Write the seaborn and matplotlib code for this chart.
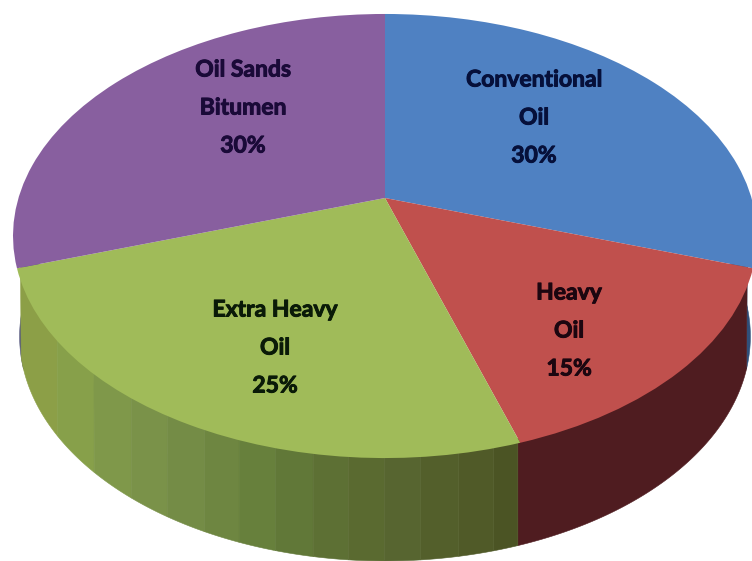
import matplotlib
matplotlib.use("Agg")
import matplotlib.pyplot as plt
import matplotlib.patheffects as pe
import numpy as np
import seaborn as sns
from matplotlib.transforms import Transform

# Shares in clockwise order starting from twelve o'clock
categories = ["Conventional\nOil", "Heavy\nOil", "Extra Heavy\nOil", "Oil Sands\nBitumen"]
shares = [30, 15, 25, 30]

sns.set_theme(style="white")
plt.rcParams["font.family"] = ["Lato", "DejaVu Sans"]

top_colors = sns.color_palette(["#4f81c2", "#c0504d", "#a0bb59", "#885f9f"])
wall_colors = ["#2f4f7a", "#4f1c20", None, "#56587e"]
band_colors = ["#8c9f47", "#87a04a", "#7f984a", "#7a9249", "#748c46", "#6e8641",
               "#67803c", "#617838", "#5d7034", "#5a6a30", "#576530", "#535f2b",
               "#505a28", "#4b5424"]
label_inks = ["#06103a", "#1c0610", "#0a1a08", "#1a0a38"]
label_anchor_x = [534, 569, 275, 243]
label_anchor_y = [118, 331, 348, 108]
LINE_STEP = 38

CX = 385
TILT = 0.171


class Perspective(Transform):
    """Projects the unit disc of the pie onto a tilted plane, in pixel coordinates."""
    input_dims = output_dims = 2
    is_separable = False
    has_inverse = False

    def __init__(self, half_w, half_h, apex_y):
        super().__init__()
        self.half_w, self.half_h, self.apex_y = half_w, half_h, apex_y

    def transform_non_affine(self, values):
        values = np.asarray(values, dtype=float)
        u, v = values[:, 0], values[:, 1]
        w = 1 + TILT * v
        return np.column_stack([CX + self.half_w * u / w, self.apex_y - self.half_h * v / w])


top_plane = Perspective(366.5, 215.5, 198)
base_plane = Perspective(360, 218, 298)


def rim(plane, angles, radius=1.0):
    pts = np.column_stack([radius * np.sin(angles), radius * np.cos(angles)])
    return plane.transform_non_affine(pts)


fig = plt.figure(figsize=(7.52, 5.61), dpi=100, facecolor="white")
ax = fig.add_axes([0, 0, 1, 1])

edges = np.deg2rad(np.cumsum([0] + shares) * 3.6)

# Side wall, back faces first so the front ones overlap them
pieces = []
for i in range(len(shares)):
    if wall_colors[i] is not None:
        pieces.append((np.linspace(edges[i], edges[i + 1], 217), wall_colors[i]))
        continue
    # The extra heavy slice is shaded in vertical bands across its width;
    # its wall runs a little past the slice so only a sliver of the next wall shows
    steps = np.linspace(edges[i], edges[i + 1] + np.deg2rad(3), 217)
    mid_x = rim(top_plane, (steps[:-1] + steps[1:]) / 2)[:, 0]
    band = np.clip(((mid_x - 15) // 37).astype(int), 0, len(band_colors) - 1)
    start = 0
    for j in range(1, len(band) + 1):
        if j == len(band) or band[j] != band[start]:
            pieces.append((steps[start:j + 1], band_colors[band[start]]))
            start = j

pieces.sort(key=lambda p: np.cos(p[0]).mean(), reverse=True)
for arc, color in pieces:
    upper = rim(top_plane, arc, 0.985)
    lower = rim(base_plane, arc)
    outline = np.vstack([upper, lower[::-1]])
    ax.fill(outline[:, 0], outline[:, 1], facecolor=color, edgecolor=color, linewidth=0.4)

# Top face of the pie
wedges, _ = ax.pie(shares, colors=top_colors, startangle=90, counterclock=False,
                   wedgeprops={"linewidth": 0})
ax.set_aspect("auto")
ax.set_xlim(0, 752)
ax.set_ylim(561, 0)
ax.axis("off")
for wedge in wedges:
    wedge.set_transform(top_plane + ax.transData)

# Slice captions: name lines followed by the share
for name, share, x, y, ink in zip(categories, shares, label_anchor_x, label_anchor_y, label_inks):
    lines = name.split("\n") + [f"{share}%"]
    for row, line in enumerate(lines):
        ax.text(x, y + (row - 1) * LINE_STEP, line, ha="center", va="center",
                fontsize=16.5, fontweight="bold", color=ink,
                path_effects=[pe.withStroke(linewidth=0.7, foreground=ink)])

fig.savefig("out.png", dpi=100)
